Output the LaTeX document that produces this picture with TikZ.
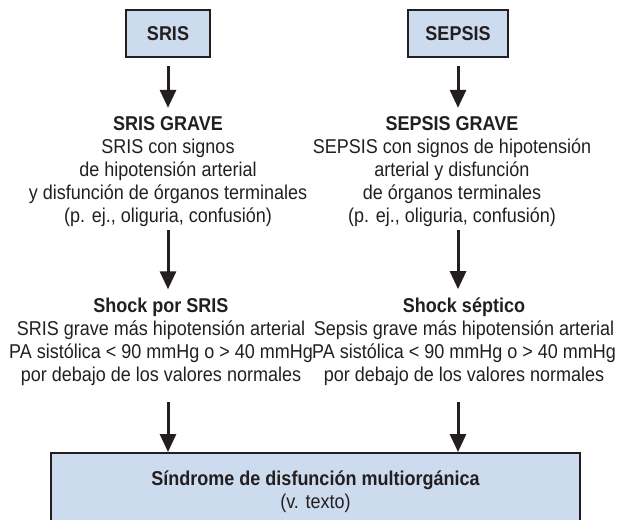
\documentclass[tikz,border=0pt]{standalone}
\usepackage{fontspec}
\setmainfont[FakeStretch=0.9]{Liberation Sans}
\usepackage{xcolor}
\usetikzlibrary{arrows.meta, positioning}
\definecolor{boxblue}{RGB}{205,219,239}
\definecolor{inkgray}{RGB}{35,31,32}

\begin{document}
\begin{tikzpicture}[
    x=1pt, y=-1pt,
    box/.style = {draw=inkgray, line width=1.6pt, fill=boxblue, font=\fontsize{20}{23}\selectfont\bfseries, text=inkgray, inner sep=0pt},
    info/.style = {align=center, inner sep=0pt, anchor=base, font=\fontsize{20}{23}\selectfont, text=inkgray},
    down/.style = {-{Triangle[width=16pt,length=18pt]}, line width=3pt, draw=inkgray}
]
\useasboundingbox (0,0) rectangle (617,519);

\node [box, minimum width=84pt, minimum height=47pt] (sris) at (168,33.5) {SRIS};
\node [box, minimum width=100pt, minimum height=47pt] (sepsis) at (458,33.5) {SEPSIS};

% base = last line of each block
\node [info] (gravel) at (168,222) {{\bfseries SRIS GRAVE}\\SRIS con signos\\de hipotensión arterial\\y disfunción de órganos terminales\\(p. ej., oliguria, confusión)};
\node [info] (graver) at (452,222) {{\bfseries SEPSIS GRAVE}\\SEPSIS con signos de hipotensión\\arterial y disfunción\\de órganos terminales\\(p. ej., oliguria, confusión)};

\node [info] (shockl) at (161,381) {{\bfseries Shock por SRIS}\\SRIS grave más hipotensión arterial\\PA sistólica < 90 mmHg o > 40 mmHg\\por debajo de los valores normales};
\node [info] (shockr) at (464,381) {{\bfseries Shock séptico}\\Sepsis grave más hipotensión arterial\\PA sistólica < 90 mmHg o > 40 mmHg\\por debajo de los valores normales};

% bottom box runs past the page edge
\node [box, anchor=north, minimum width=529pt, minimum height=100pt] (mods) at (315.5,452) {};
\node [info] (modstxt) at (315.5,508) {{\bfseries Síndrome de disfunción multiorgánica}\\(v. texto)};

\draw [down, shorten <=8pt, shorten >=8pt] (sris.south) -- (sris.south |- gravel.north);
\draw [down, shorten <=8pt, shorten >=8pt] (sepsis.south) -- (sepsis.south |- graver.north);
\draw [down, shorten <=4pt, shorten >=8pt] (sris.south |- gravel.south) -- (sris.south |- shockl.north);
\draw [down, shorten <=4pt, shorten >=8pt] (sepsis.south |- graver.south) -- (sepsis.south |- shockr.north);
\draw [down, shorten <=17pt] (sris.south |- shockl.south) -- (sris.south |- mods.north);
\draw [down, shorten <=17pt] (sepsis.south |- shockr.south) -- (sepsis.south |- mods.north);

\end{tikzpicture}
\end{document}
